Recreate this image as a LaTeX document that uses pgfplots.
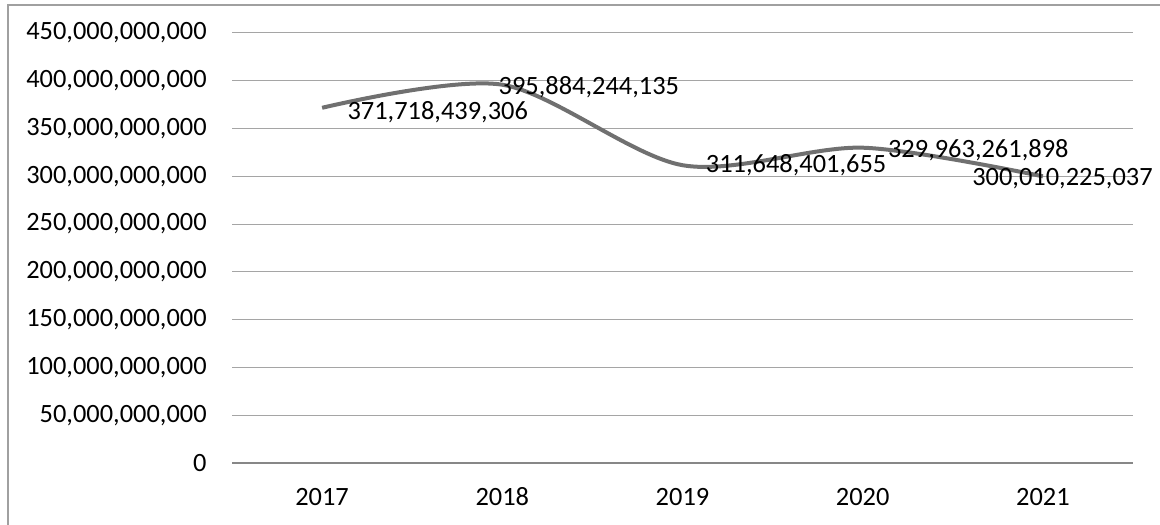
\documentclass[border=0pt]{standalone}
\usepackage{pgfplots}
\pgfplotsset{compat=1.18}
\usepackage{fontspec}
\setmainfont{Carlito}
\definecolor{linegray}{RGB}{112,112,112}
\definecolor{gridgray}{RGB}{165,165,165}
\definecolor{axisgray}{RGB}{135,135,135}
\definecolor{framegray}{RGB}{160,160,160}
\begin{document}
\fontsize{13.2bp}{16bp}\selectfont
\begin{tikzpicture}
\path[use as bounding box] (0,0) rectangle (580bp,262.5bp);
\draw[framegray, line width=0.6bp] (4bp,0) -- (4bp,260bp) -- (580bp,260bp);
\begin{axis}[
  at={(116bp,31bp)}, anchor=south west,
  width=450.5bp, height=215bp, scale only axis,
  xmin=-0.5, xmax=4.5, ymin=0, ymax=450,
  xtick={0,1,2,3,4},
  xticklabels={2017,2018,2019,2020,2021},
  ytick={0,50,100,150,200,250,300,350,400,450},
  yticklabels={0,{50,000,000,000},{100,000,000,000},{150,000,000,000},{200,000,000,000},{250,000,000,000},{300,000,000,000},{350,000,000,000},{400,000,000,000},{450,000,000,000}},
  major tick length=0pt,
  axis x line*=bottom, axis y line*=left,
  y axis line style={draw=none},
  x axis line style={draw=axisgray, line width=0.8bp},
  ymajorgrids, grid style={draw=gridgray, line width=0.5bp},
  yticklabel style={inner sep=0pt, xshift=-12.5bp, font=\fontsize{13.2bp}{16bp}\selectfont},
  xticklabel style={inner sep=0pt, anchor=base, yshift=-21bp, font=\fontsize{13.2bp}{16bp}\selectfont},
  clip=false,
]
\addplot[linegray, line width=2bp, smooth, no marks] coordinates {
  (0,371.718439306) (1,395.884244135) (2,311.648401655) (3,329.963261898) (4,300.010225037)};
\begin{scope}[every node/.style={anchor=west, inner sep=0pt, font=\fontsize{13.2bp}{16bp}\selectfont}]
\node[xshift=12.5bp, yshift=-2bp] at (axis cs:0,371.718439306) {371,718,439,306};
\node[xshift=-2bp, yshift=-1bp] at (axis cs:1,395.884244135) {395,884,244,135};
\node[xshift=11.5bp, yshift=0bp] at (axis cs:2,311.648401655) {311,648,401,655};
\node[xshift=12.5bp, yshift=-1bp] at (axis cs:3,329.963261898) {329,963,261,898};
\node[xshift=-35.5bp, yshift=-1bp] at (axis cs:4,300.010225037) {300,010,225,037};
\end{scope}
\end{axis}
\end{tikzpicture}
\end{document}
